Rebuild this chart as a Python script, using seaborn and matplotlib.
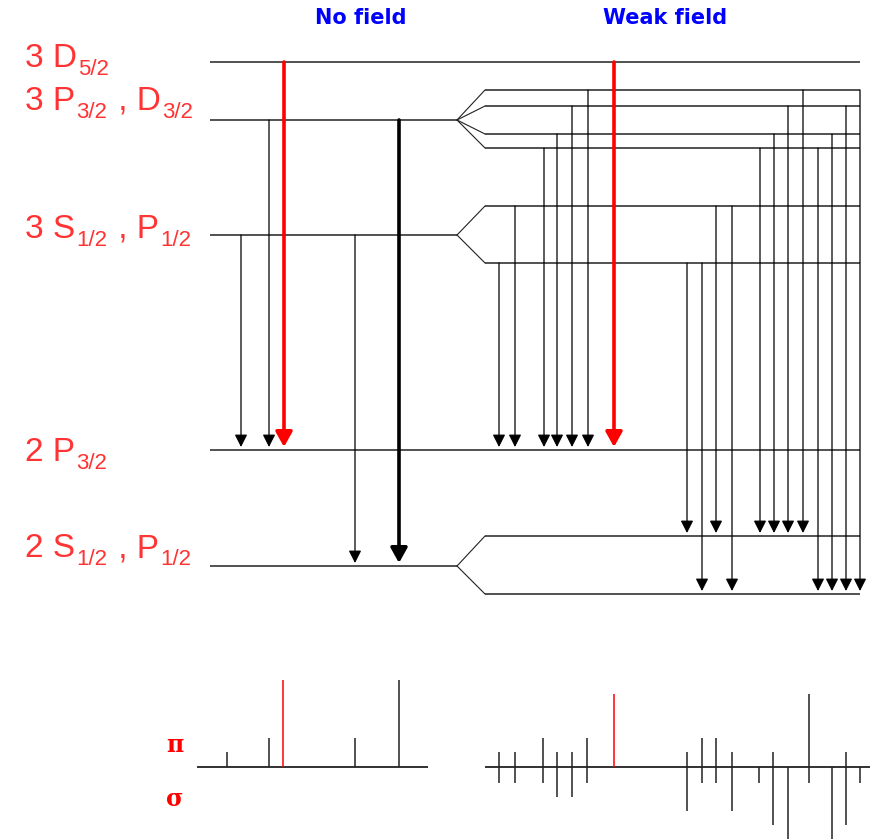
import matplotlib
matplotlib.use("Agg")
import matplotlib.pyplot as plt
import seaborn as sns


# energy levels (diagram units, y grows downward)
# label parts: (text, is_subscript)
LEVEL_PARTS = [
    [("3 D", 0), ("5/2", 1)],
    [("3 P", 0), ("3/2", 1), (" , D", 0), ("3/2", 1)],
    [("3 S", 0), ("1/2", 1), (" , P", 0), ("1/2", 1)],
    [("2 P", 0), ("3/2", 1)],
    [("2 S", 0), ("1/2", 1), (" , P", 0), ("1/2", 1)],
]
LEVEL_Y = [62, 120, 235, 450, 566]
LABEL_BASE = [67, 110, 238, 461, 557]
SUBLEVELS = [[62], [90, 106, 134, 148], [206, 263], [450], [536, 594]]

# no field transitions
NF_X = [241, 269, 284, 355, 399]
NF_FROM = [235, 120, 62, 235, 120]
NF_TO = [450, 450, 450, 566, 566]
NF_KIND = ["thin", "thin", "red", "thin", "thick"]

# weak field transitions
WF_X = [499, 515, 544, 557, 572, 588, 614, 687, 702, 716, 732,
        760, 774, 788, 803, 818, 832, 846, 860]
WF_FROM = [263, 206, 148, 134, 106, 90, 62, 263, 263, 206, 206,
           148, 134, 106, 90, 148, 134, 106, 90]
WF_TO = [450, 450, 450, 450, 450, 450, 450, 536, 594, 536, 594,
         536, 536, 536, 536, 594, 594, 594, 594]

# spectra: pi components drawn up, sigma components down
NF_LINE_X = [227, 269, 283, 355, 399]
NF_PI = [15, 29, 87, 29, 87]
NF_RED = [False, False, True, False, False]

WF_LINE_X = [499, 515, 543, 557, 572, 587, 614, 687, 702, 716, 732,
             759, 773, 788, 809, 832, 846, 860]
WF_PI = [15, 15, 29, 15, 15, 29, 73, 15, 29, 29, 15, 0, 15, 0, 73, 0, 15, 0]
WF_SIGMA = [16, 16, 16, 30, 30, 16, 0, 44, 16, 16, 44, 16, 58, 72, 16, 72, 58, 16]
WF_RED = [False] * 6 + [True] + [False] * 11

SPEC_BASE = 767
LEFT_END = 457
SPLIT_START = 485
RIGHT_END = 860
LABEL_RED = "#ff3333"


def arrow(ax, x, y0, y1, kind):
    if kind == "red":
        color, lw, hl, hw = "#ff0000", 2.6, 0.9, 0.5
    elif kind == "thick":
        color, lw, hl, hw = "black", 2.6, 0.9, 0.5
    else:
        color, lw, hl, hw = "black", 0.9, 0.75, 0.38
    ax.annotate("", xy=(x, y1 - 3), xytext=(x, y0),
                arrowprops=dict(arrowstyle=f"-|>,head_length={hl},head_width={hw}",
                                color=color, lw=lw, shrinkA=0, shrinkB=0,
                                mutation_scale=10))


def level_label(ax, parts, base):
    """Writes a term label piece by piece, subscripts smaller and lowered."""
    prev = None
    for text, sub in parts:
        size = 16 if sub else 24
        dy = -6 if sub else 0
        if prev is None:
            prev = ax.text(25, base, text, color=LABEL_RED, fontsize=size,
                           va="baseline", ha="left")
        else:
            prev = ax.annotate(text, xy=(1, base), xycoords=(prev, "data"),
                               xytext=(1.0, dy), textcoords="offset points",
                               color=LABEL_RED, fontsize=size,
                               va="baseline", ha="left")


def main():
    sns.set_theme(style="white")
    plt.rcParams["font.family"] = ["Liberation Sans", "DejaVu Sans"]

    fig = plt.figure(figsize=(8.71, 8.40), dpi=100)
    ax = fig.add_axes([0, 0, 1, 1])
    ax.set_xlim(0, 871)
    ax.set_ylim(840, 0)
    ax.axis("off")

    lc = "#222222"
    for parts, y, base, subs in zip(LEVEL_PARTS, LEVEL_Y, LABEL_BASE, SUBLEVELS):
        level_label(ax, parts, base)
        if len(subs) == 1:
            ax.hlines(y, 210, RIGHT_END, color=lc, lw=1.1)
        else:
            ax.hlines(y, 210, LEFT_END, color=lc, lw=1.1)
            for s in subs:
                ax.plot([LEFT_END, SPLIT_START], [y, s], color=lc, lw=0.8)
                ax.hlines(s, SPLIT_START, RIGHT_END, color=lc, lw=1.1)

    for x, y0, y1, k in zip(NF_X, NF_FROM, NF_TO, NF_KIND):
        arrow(ax, x, y0, y1, k)
    for x, y0, y1 in zip(WF_X, WF_FROM, WF_TO):
        arrow(ax, x, y0, y1, "red" if y0 == 62 else "thin")

    ax.text(361, 18, "No field", color="#0000ff", fontsize=15, fontweight="bold",
            family="DejaVu Sans", ha="center", va="center")
    ax.text(665, 18, "Weak field", color="#0000ff", fontsize=15, fontweight="bold",
            family="DejaVu Sans", ha="center", va="center")

    # spectra
    ax.hlines(SPEC_BASE, 197, 428, color=lc, lw=1.3)
    ax.hlines(SPEC_BASE, 485, 870, color=lc, lw=1.3)
    for x, h, red in zip(NF_LINE_X, NF_PI, NF_RED):
        ax.vlines(x, SPEC_BASE - h, SPEC_BASE, color="#ff0000" if red else lc, lw=1.1)
    for x, up, dn, red in zip(WF_LINE_X, WF_PI, WF_SIGMA, WF_RED):
        ax.vlines(x, SPEC_BASE - up, SPEC_BASE + dn, color="#ff0000" if red else lc, lw=1.1)

    ax.text(175, 745, "π", color="#ff0000", fontsize=17, fontweight="bold",
            family="DejaVu Serif", ha="center", va="center")
    ax.text(175, 799, "σ", color="#ff0000", fontsize=17, fontweight="bold",
            family="DejaVu Serif", ha="center", va="center")

    fig.savefig("out.png", dpi=100)
    plt.close(fig)


if __name__ == "__main__":
    main()
